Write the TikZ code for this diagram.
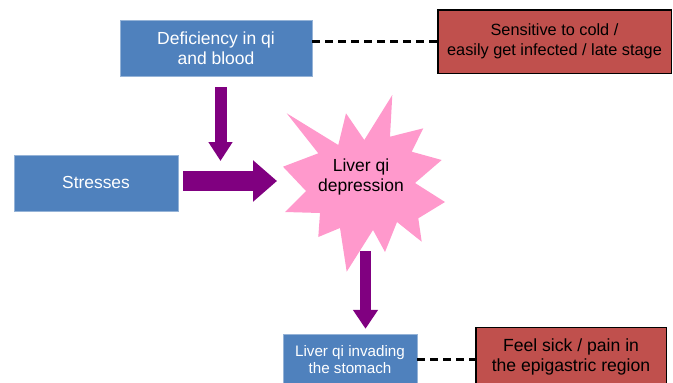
\documentclass[tikz,border=0pt]{standalone}
\usepackage{fontspec}
\setmainfont{Liberation Sans}
\usepackage{tikz}
\usetikzlibrary{arrows.meta}

\definecolor{boxblue}{HTML}{4F81BD}
\definecolor{boxred}{HTML}{C0504D}
\definecolor{arrowpurple}{HTML}{800080}
\definecolor{starpink}{HTML}{FF99CC}

\begin{document}
\begin{tikzpicture}[x=1pt,y=-1pt]
				\useasboundingbox (0,0) rectangle (673,383);
				\clip (0,0) rectangle (673,383);
				\fill[starpink] (392.3,95) -- (390,136.7) -- (423.3,128.3) -- (411.7,151.7)
					-- (441.7,160) -- (415,183) -- (445,202) -- (418.3,218.3) -- (421.7,241.7)
					-- (397,222) -- (385,252) -- (373,230) -- (346.7,271.7) -- (340,228)
					-- (318.3,237) -- (320,213) -- (285,212) -- (306,191) -- (283,166.7)
					-- (318.3,153.3) -- (286.7,113.3) -- (338.3,145) -- (346,113.3)
					-- (364.3,140) -- cycle;
				\begin{scope}[every node/.style = {rectangle, fill=boxblue, draw=boxblue!60!white,
						text=white, align=center, inner sep=0pt}]
					\node (Def) at (216,48) [minimum width=192pt, minimum height=56pt,
						font=\fontsize{17.5}{20.5}\selectfont] {Deficiency in qi\\and blood};
					\node (Str) at (96,183) [minimum width=164pt, minimum height=56pt,
						font=\fontsize{17.4}{20}\selectfont] {Stresses};
					\node (Inv) at (350,359.5) [minimum width=134pt, minimum height=51pt,
						font=\fontsize{15.2}{16.7}\selectfont] {Liver qi invading\\the stomach};
				\end{scope}
				\begin{scope}[every node/.style = {rectangle, fill=boxred, draw=black, line width=1.5pt,
						align=center, inner sep=0pt}]
					\node (Sens) at (554.5,41.5) [minimum width=233.5pt, minimum height=63.5pt,
						font=\fontsize{16.3}{20}\selectfont] {Sensitive to cold /\\easily get infected / late stage};
					\node (Feel) at (571,356.5) [minimum width=190.5pt, minimum height=58pt,
						font=\fontsize{17.6}{20}\selectfont] {Feel sick / pain in\\the epigastric region};
				\end{scope}
				\node (Liv) at (361,177) [align=center, inner sep=0pt,
					font=\fontsize{17.5}{19.7}\selectfont] {Liver qi\\depression};
				\coordinate (DefTip) at (220.5,161);
				\coordinate (StrTip) at (277,181);
				\coordinate (LivTail) at (365.5,251);
				\begin{scope}[every edge/.style={draw=arrowpurple}]
					\path [line width=12pt, -{Triangle[width=23pt,length=19pt]}, shorten <=11pt]
						(Def.south -| DefTip) edge (DefTip);
					\path [line width=20pt, -{Triangle[width=40pt,length=24pt]}, shorten <=5pt]
						(Str.east |- StrTip) edge (StrTip);
					\path [line width=11pt, -{Triangle[width=24pt,length=19pt]}, shorten >=5pt]
						(LivTail) edge (Inv.north -| LivTail);
				\end{scope}
				\begin{scope}[black, line width=2.2pt, dash pattern=on 8pt off 5pt]
					\draw (Def.east |- Sens.west) -- (Sens.west);
					\draw (Inv.east) -- (Inv.east -| Feel.west);
				\end{scope}
			\end{tikzpicture}
\end{document}
